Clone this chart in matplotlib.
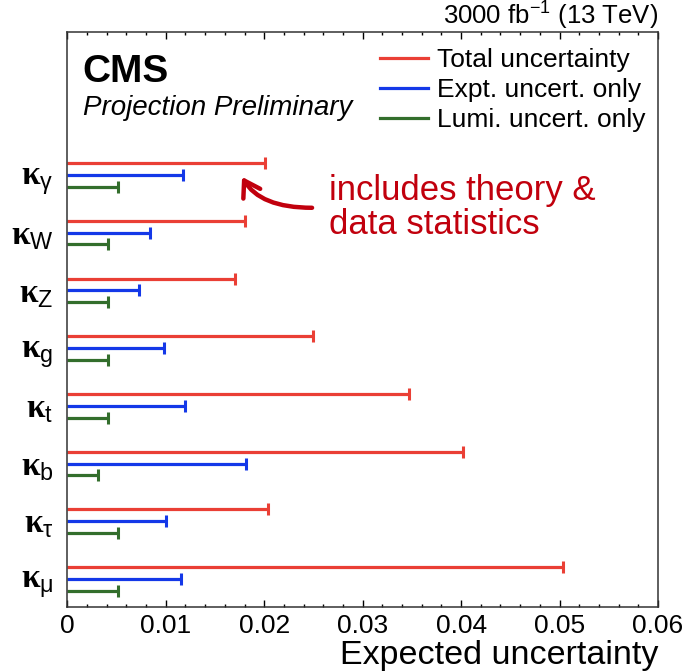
import numpy as np
import matplotlib
matplotlib.use('Agg')
import matplotlib.pyplot as plt
from matplotlib.ticker import MultipleLocator
from matplotlib.lines import Line2D

plt.rcParams['font.family'] = ['Liberation Sans', 'DejaVu Sans']
plt.rcParams['mathtext.fontset'] = 'custom'
plt.rcParams['mathtext.rm'] = 'Liberation Sans'
plt.rcParams['mathtext.it'] = 'Liberation Sans:italic'
plt.rcParams['mathtext.bf'] = 'Liberation Serif:bold'

# couplings, top to bottom
couplings = [r'$\mathbf{\kappa}_{\mathrm{\gamma}}$', r'$\mathbf{\kappa}_{\mathrm{W}}$',
             r'$\mathbf{\kappa}_{\mathrm{Z}}$', r'$\mathbf{\kappa}_{\mathrm{g}}$',
             r'$\mathbf{\kappa}_{\mathrm{t}}$', r'$\mathbf{\kappa}_{\mathrm{b}}$',
             r'$\mathbf{\kappa}_{\mathrm{\tau}}$', r'$\mathbf{\kappa}_{\mathrm{\mu}}$']
total_unc = [0.0201, 0.0180, 0.0170, 0.0250, 0.0347, 0.0402, 0.0204, 0.0503]
expt_unc = [0.0118, 0.0084, 0.0073, 0.0098, 0.0120, 0.0181, 0.0100, 0.0115]
lumi_unc = [0.0051, 0.0041, 0.0041, 0.0041, 0.0041, 0.0031, 0.0051, 0.0051]
xtick_labels = ['0', '0.01', '0.02', '0.03', '0.04', '0.05', '0.06']

red = '#ea3f35'
blue = '#1438e8'
green = '#336e2c'

fig = plt.figure(figsize=(6.82, 6.71), dpi=100)
ax = fig.add_axes([0.0987, 0.0958, 0.8661, 0.8561])

ypos = np.arange(len(couplings))[::-1]
offset = 0.205
for vals, col, dy in [(total_unc, red, offset), (expt_unc, blue, 0), (lumi_unc, green, -offset)]:
    for v, y in zip(vals, ypos):
        ax.plot([0, v], [y + dy, y + dy], color=col, lw=2.3, solid_capstyle='butt')
        ax.plot([v], [y + dy], marker='|', color=col, markersize=8.5, markeredgewidth=2.2)

ax.set_xlim(0, 0.06)
ax.set_ylim(-0.48, 9.47)
ax.xaxis.set_minor_locator(MultipleLocator(0.002))
ax.set_xticks([0, 0.01, 0.02, 0.03, 0.04, 0.05, 0.06])
ax.set_xticklabels(xtick_labels)
ax.tick_params(axis='x', which='both', direction='in', top=True, labelsize=19, pad=5)
ax.tick_params(axis='x', which='major', length=5, width=1)
ax.tick_params(axis='x', which='minor', length=2.5, width=1)
ax.set_yticks(ypos)
ax.set_yticklabels(couplings)
ax.tick_params(axis='y', length=0, labelsize=24, pad=10)
for s in ax.spines.values():
    s.set_linewidth(1.1)
    s.set_color('#333333')

ax.set_xlabel('Expected uncertainty', fontsize=24.5, loc='right', labelpad=2)

fig.text(0.965, 0.977, r'3000 fb$^{\mathrm{-1}}$ (13 TeV)', fontsize=18.5, ha='right', va='center')
ax.text(0.025, 0.962, 'CMS', transform=ax.transAxes, fontsize=28, fontweight='bold', va='top')
ax.text(0.027, 0.868, 'Projection Preliminary', transform=ax.transAxes, fontsize=20,
        style='italic', va='center')

handles = [Line2D([], [], color=red, lw=2.3), Line2D([], [], color=blue, lw=2.3),
           Line2D([], [], color=green, lw=2.3)]
ax.legend(handles, ['Total uncertainty', 'Expt. uncert. only', 'Lumi. uncert. only'],
          loc='upper left', bbox_to_anchor=(0.529, 0.972), frameon=False, fontsize=19,
          handlelength=1.82, handletextpad=0.33, labelspacing=0.22, borderpad=0, borderaxespad=0)

note_color = '#c1000d'
ax.text(0.0266, 6.44, 'includes theory &\ndata statistics', fontsize=25, color=note_color,
        va='center', ha='left', linespacing=1.05)
ax.annotate('', xy=(0.01775, 6.965), xytext=(0.02486, 6.43),
            arrowprops=dict(arrowstyle='->,head_length=0.55,head_width=0.35', mutation_scale=20,
                            color=note_color, lw=3.2, shrinkA=0, shrinkB=0,
                            connectionstyle='angle3,angleA=0,angleB=-60'))

fig.savefig('out.png', dpi=100)
